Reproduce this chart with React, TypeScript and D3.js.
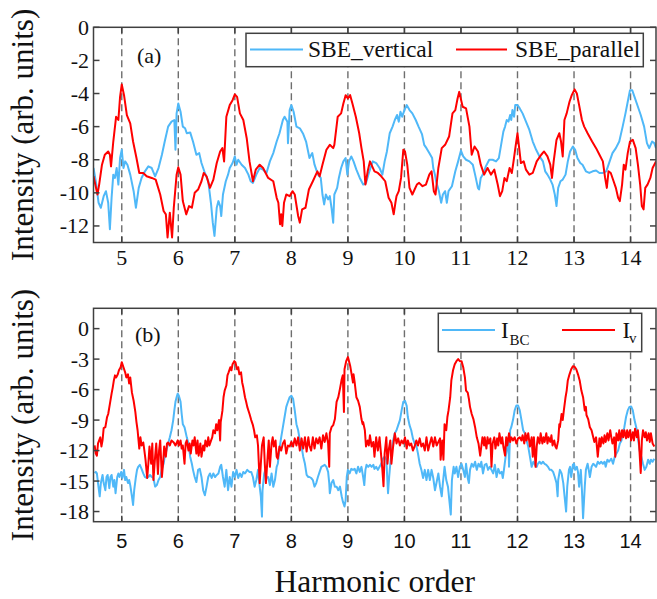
import React from 'react';
import * as d3 from 'd3';

// ---------- data ----------
const harmonicTicks = [5, 6, 7, 8, 9, 10, 11, 12, 13, 14];
const yTicksA = [0, -2, -4, -6, -8, -10, -12];
const yTicksB = [0, -3, -6, -9, -12, -15, -18];

const sbeVertical: [number, number][] = [
  [4.5,-8.5],[4.55,-9.5],[4.59,-10.6],[4.63,-10.9],[4.68,-10.2],[4.72,-9.9],[4.76,-10.6],[4.79,-12.2],[4.82,-10.3],[4.85,-8.9],
  [4.88,-9.1],[4.91,-8.5],[4.94,-9.5],[4.97,-7.9],[5.0,-7.4],[5.03,-8.5],[5.06,-8.1],[5.1,-8.3],[5.15,-8.9],[5.21,-9.9],
  [5.25,-10.9],[5.3,-9.7],[5.35,-9.1],[5.41,-8.7],[5.47,-8.4],[5.53,-8.5],[5.59,-9.0],[5.65,-8.5],[5.71,-7.7],[5.76,-6.9],
  [5.82,-6.0],[5.88,-5.7],[5.93,-5.6],[5.95,-7.4],[5.97,-5.2],[6.0,-4.6],[6.04,-5.1],[6.08,-6.0],[6.12,-6.1],[6.15,-6.4],
  [6.21,-6.35],[6.26,-6.9],[6.32,-7.7],[6.37,-7.6],[6.41,-8.2],[6.47,-8.8],[6.53,-9.3],[6.58,-10.7],[6.61,-11.8],[6.64,-12.6],
  [6.68,-10.9],[6.71,-10.5],[6.74,-10.8],[6.76,-11.4],[6.79,-10.1],[6.84,-9.3],[6.88,-8.9],[6.91,-8.5],[6.96,-8.2],[7.0,-7.8],
  [7.03,-8.3],[7.06,-8.0],[7.12,-8.3],[7.18,-8.5],[7.24,-8.9],[7.28,-9.3],[7.32,-9.4],[7.38,-8.9],[7.44,-8.5],[7.5,-8.6],
  [7.56,-8.8],[7.62,-8.1],[7.68,-7.6],[7.74,-6.9],[7.79,-6.4],[7.85,-5.6],[7.88,-5.4],[7.93,-5.7],[7.94,-7.0],[7.97,-5.0],
  [8.0,-4.7],[8.04,-5.1],[8.09,-6.0],[8.15,-6.1],[8.21,-6.45],[8.26,-6.9],[8.32,-7.9],[8.37,-7.6],[8.41,-8.3],[8.47,-8.9],
  [8.52,-9.1],[8.55,-10.1],[8.58,-10.7],[8.61,-10.1],[8.65,-10.4],[8.68,-10.2],[8.71,-10.9],[8.74,-11.8],[8.76,-10.1],[8.81,-9.7],
  [8.84,-9.1],[8.88,-8.5],[8.92,-8.1],[8.96,-7.9],[8.99,-8.9],[9.02,-8.1],[9.06,-7.8],[9.1,-8.1],[9.15,-8.6],[9.21,-9.1],
  [9.27,-9.5],[9.32,-9.4],[9.38,-8.7],[9.44,-8.1],[9.5,-8.2],[9.56,-8.5],[9.61,-8.9],[9.65,-8.1],[9.69,-7.5],[9.74,-6.4],
  [9.79,-6.0],[9.83,-5.6],[9.87,-5.3],[9.9,-5.7],[9.93,-5.1],[9.96,-5.4],[10.0,-5.0],[10.04,-4.7],[10.09,-5.0],[10.14,-5.2],
  [10.2,-5.6],[10.25,-6.0],[10.31,-6.45],[10.35,-7.1],[10.39,-7.3],[10.44,-7.6],[10.49,-7.9],[10.51,-8.5],[10.54,-8.9],[10.56,-9.3],
  [10.61,-9.9],[10.65,-10.6],[10.68,-10.1],[10.72,-9.9],[10.75,-10.6],[10.78,-9.9],[10.84,-9.6],[10.9,-8.7],[10.95,-8.1],[11.0,-7.45],
  [11.04,-7.8],[11.09,-8.0],[11.15,-8.1],[11.21,-8.3],[11.25,-8.9],[11.3,-9.7],[11.32,-9.8],[11.35,-9.1],[11.4,-8.8],[11.44,-8.4],
  [11.5,-8.0],[11.56,-8.0],[11.62,-8.1],[11.67,-7.9],[11.71,-7.1],[11.75,-6.3],[11.78,-6.0],[11.81,-5.6],[11.84,-5.7],[11.87,-5.3],
  [11.89,-5.6],[11.91,-5.0],[11.94,-5.4],[11.96,-4.7],[12.0,-4.7],[12.04,-4.9],[12.09,-5.2],[12.15,-5.7],[12.21,-6.2],[12.27,-6.9],
  [12.33,-7.4],[12.39,-7.8],[12.45,-8.1],[12.49,-8.7],[12.53,-8.9],[12.58,-9.2],[12.62,-9.5],[12.66,-10.1],[12.69,-10.8],[12.72,-9.7],
  [12.76,-9.3],[12.8,-9.2],[12.85,-8.9],[12.89,-8.1],[12.93,-7.5],[12.98,-7.2],[13.02,-7.4],[13.06,-7.9],[13.11,-8.2],[13.15,-8.3],
  [13.21,-8.7],[13.27,-8.8],[13.33,-8.7],[13.39,-8.65],[13.45,-8.8],[13.51,-8.8],[13.57,-8.7],[13.63,-8.1],[13.68,-7.6],[13.74,-7.3],
  [13.8,-6.9],[13.86,-6.0],[13.91,-5.2],[13.95,-4.5],[13.99,-3.8],[14.03,-3.8],[14.07,-4.2],[14.13,-4.8],[14.18,-5.3],[14.24,-6.0],
  [14.29,-7.0],[14.33,-7.3],[14.38,-6.9],[14.42,-7.0],[14.45,-7.3],
];

const sbeParallel: [number, number][] = [
  [4.5,-9.0],[4.57,-10.1],[4.6,-9.5],[4.65,-8.3],[4.7,-7.7],[4.76,-7.5],[4.79,-7.7],[4.81,-8.4],[4.85,-6.9],[4.9,-5.4],
  [4.94,-5.6],[4.97,-4.2],[5.0,-3.45],[5.04,-4.1],[5.09,-5.3],[5.15,-5.8],[5.2,-6.9],[5.26,-7.9],[5.31,-8.8],[5.38,-8.8],
  [5.44,-9.0],[5.53,-9.1],[5.6,-9.2],[5.68,-10.1],[5.74,-11.1],[5.78,-11.3],[5.81,-12.7],[5.85,-11.2],[5.89,-12.7],[5.92,-10.9],
  [5.97,-8.9],[6.0,-8.45],[6.04,-8.9],[6.08,-10.5],[6.14,-11.3],[6.19,-10.8],[6.24,-10.9],[6.29,-10.0],[6.35,-9.8],[6.41,-9.3],
  [6.45,-8.8],[6.5,-9.0],[6.56,-9.7],[6.62,-9.2],[6.68,-8.2],[6.74,-7.5],[6.78,-7.3],[6.81,-8.1],[6.85,-5.4],[6.91,-4.7],
  [6.96,-4.4],[7.0,-4.05],[7.04,-4.2],[7.09,-5.2],[7.15,-5.6],[7.21,-6.7],[7.26,-8.1],[7.32,-9.3],[7.37,-8.6],[7.44,-8.3],
  [7.5,-8.5],[7.59,-9.1],[7.68,-9.3],[7.74,-10.3],[7.77,-10.6],[7.8,-11.9],[7.82,-11.3],[7.84,-12.0],[7.87,-10.6],[7.91,-10.1],
  [7.97,-10.2],[8.02,-9.9],[8.06,-10.1],[8.12,-11.4],[8.15,-11.8],[8.19,-11.0],[8.25,-10.9],[8.31,-9.8],[8.38,-9.3],[8.46,-8.7],
  [8.5,-9.0],[8.55,-8.3],[8.62,-7.4],[8.68,-7.1],[8.74,-7.3],[8.76,-7.1],[8.82,-5.4],[8.88,-5.2],[8.92,-4.6],[8.96,-4.1],
  [9.0,-4.3],[9.04,-4.1],[9.08,-4.6],[9.14,-5.4],[9.2,-6.4],[9.24,-7.3],[9.28,-8.1],[9.31,-9.5],[9.35,-8.7],[9.39,-8.1],
  [9.47,-8.7],[9.53,-8.8],[9.59,-9.0],[9.66,-9.3],[9.72,-10.3],[9.77,-10.6],[9.81,-11.3],[9.84,-10.6],[9.86,-10.2],[9.9,-9.9],
  [9.94,-9.1],[9.98,-7.4],[10.01,-7.5],[10.05,-8.3],[10.09,-9.7],[10.14,-10.1],[10.18,-9.8],[10.22,-9.5],[10.26,-9.4],[10.32,-9.6],
  [10.38,-9.5],[10.44,-8.9],[10.48,-8.7],[10.52,-9.9],[10.55,-10.1],[10.6,-8.5],[10.66,-7.3],[10.72,-7.1],[10.79,-6.6],[10.85,-5.2],
  [10.9,-5.0],[10.94,-4.3],[10.97,-3.9],[11.03,-4.8],[11.09,-4.9],[11.15,-6.0],[11.19,-7.7],[11.24,-7.2],[11.3,-7.5],[11.35,-8.3],
  [11.41,-8.9],[11.47,-8.5],[11.53,-8.9],[11.59,-8.6],[11.65,-9.5],[11.69,-10.2],[11.73,-9.9],[11.77,-9.1],[11.81,-9.3],[11.86,-8.5],
  [11.9,-8.8],[11.93,-8.1],[11.97,-7.1],[12.0,-6.4],[12.03,-7.3],[12.06,-8.2],[12.11,-8.1],[12.15,-8.6],[12.21,-8.9],[12.27,-8.8],
  [12.34,-8.1],[12.42,-7.7],[12.47,-7.5],[12.53,-7.8],[12.58,-8.3],[12.61,-9.1],[12.64,-8.1],[12.69,-6.8],[12.74,-6.4],[12.77,-6.9],
  [12.8,-7.8],[12.83,-5.6],[12.87,-5.2],[12.92,-4.5],[12.96,-4.1],[13.01,-3.75],[13.05,-4.0],[13.09,-4.7],[13.14,-5.6],[13.18,-6.0],
  [13.24,-6.4],[13.32,-6.9],[13.39,-7.3],[13.45,-7.7],[13.51,-8.1],[13.55,-9.1],[13.58,-9.7],[13.61,-8.7],[13.65,-8.8],[13.7,-9.3],
  [13.74,-9.7],[13.78,-10.3],[13.81,-10.5],[13.85,-9.5],[13.88,-8.3],[13.91,-8.6],[13.95,-7.6],[13.99,-6.9],[14.04,-6.8],[14.09,-7.3],
  [14.13,-8.3],[14.17,-9.5],[14.2,-10.8],[14.23,-11.0],[14.26,-9.7],[14.3,-9.5],[14.35,-9.1],[14.39,-8.5],[14.45,-8.1],
];

const iBC: [number, number][] = [
  [4.52,-14.2],[4.54,-14.1],[4.56,-14.25],[4.58,-15.2],[4.61,-16.5],[4.63,-15.2],[4.66,-14.4],[4.68,-15.2],[4.71,-15.9],[4.73,-14.6],
  [4.75,-14.4],[4.78,-15.7],[4.8,-14.6],[4.82,-14.4],[4.85,-15.55],[4.87,-14.9],[4.89,-16.2],[4.92,-14.6],[4.94,-14.25],[4.96,-14.6],
  [4.99,-14.1],[5.01,-14.7],[5.04,-13.9],[5.06,-14.9],[5.08,-14.6],[5.11,-15.2],[5.13,-14.9],[5.15,-15.4],[5.18,-16.5],[5.2,-17.35],
  [5.22,-15.9],[5.25,-14.6],[5.27,-13.9],[5.29,-13.6],[5.32,-13.4],[5.35,-13.8],[5.38,-14.25],[5.41,-14.6],[5.44,-14.7],[5.47,-14.6],
  [5.5,-14.4],[5.53,-14.6],[5.56,-14.7],[5.59,-15.55],[5.62,-15.4],[5.65,-14.9],[5.68,-14.6],[5.71,-13.8],[5.74,-13.3],[5.76,-12.6],
  [5.79,-12.0],[5.82,-11.3],[5.85,-10.7],[5.88,-10.0],[5.91,-9.0],[5.93,-8.05],[5.95,-7.2],[5.97,-6.75],[5.99,-6.4],[6.01,-6.6],
  [6.04,-7.2],[6.06,-8.4],[6.08,-9.4],[6.11,-9.7],[6.13,-10.2],[6.15,-10.7],[6.18,-11.3],[6.21,-12.6],[6.24,-13.3],[6.26,-13.9],
  [6.29,-14.6],[6.32,-15.1],[6.35,-13.9],[6.38,-13.8],[6.41,-14.6],[6.44,-15.9],[6.47,-16.4],[6.5,-15.55],[6.53,-14.6],[6.56,-14.25],
  [6.59,-14.7],[6.62,-14.25],[6.65,-14.6],[6.68,-14.4],[6.71,-14.25],[6.74,-13.6],[6.76,-13.4],[6.79,-14.6],[6.82,-15.55],[6.85,-13.9],
  [6.88,-15.9],[6.91,-14.6],[6.94,-15.55],[6.97,-14.1],[7.0,-14.6],[7.03,-13.9],[7.06,-14.7],[7.09,-14.25],[7.12,-14.6],[7.15,-14.1],
  [7.18,-14.25],[7.22,-13.9],[7.26,-14.1],[7.29,-14.1],[7.32,-14.6],[7.35,-15.55],[7.38,-14.9],[7.41,-13.9],[7.44,-15.55],[7.46,-16.5],
  [7.48,-18.5],[7.49,-15.9],[7.52,-14.25],[7.54,-13.9],[7.56,-14.7],[7.59,-14.6],[7.62,-15.4],[7.65,-14.25],[7.68,-15.55],[7.71,-14.9],
  [7.74,-13.6],[7.76,-13.3],[7.79,-11.8],[7.82,-10.7],[7.85,-9.7],[7.88,-8.7],[7.91,-7.7],[7.94,-7.2],[7.97,-6.75],[8.0,-6.6],
  [8.03,-6.9],[8.06,-8.05],[8.09,-9.4],[8.12,-10.0],[8.15,-11.0],[8.18,-11.6],[8.21,-12.6],[8.24,-13.3],[8.27,-14.4],[8.3,-14.6],
  [8.32,-14.6],[8.35,-14.7],[8.38,-14.9],[8.41,-15.55],[8.44,-15.2],[8.47,-14.6],[8.5,-14.1],[8.53,-13.6],[8.56,-13.5],[8.59,-13.4],
  [8.62,-13.6],[8.65,-14.1],[8.67,-15.2],[8.68,-16.2],[8.71,-15.2],[8.74,-14.9],[8.77,-15.55],[8.8,-15.55],[8.83,-15.9],[8.86,-15.55],
  [8.89,-16.5],[8.91,-17.0],[8.94,-17.5],[8.96,-16.9],[8.98,-14.6],[9.0,-13.9],[9.03,-14.25],[9.06,-13.8],[9.09,-13.9],[9.12,-13.8],
  [9.15,-14.25],[9.18,-13.6],[9.21,-14.1],[9.24,-13.6],[9.27,-14.6],[9.29,-15.4],[9.31,-13.9],[9.33,-13.4],[9.36,-13.6],[9.39,-13.4],
  [9.42,-13.6],[9.45,-13.4],[9.47,-13.8],[9.5,-13.6],[9.53,-13.9],[9.56,-13.6],[9.59,-13.3],[9.62,-12.8],[9.65,-12.6],[9.68,-12.9],
  [9.71,-16.2],[9.73,-14.6],[9.75,-13.3],[9.77,-12.3],[9.8,-11.0],[9.83,-10.3],[9.86,-10.0],[9.89,-9.5],[9.92,-9.0],[9.95,-8.05],
  [9.98,-7.2],[10.01,-7.1],[10.04,-7.6],[10.06,-8.7],[10.09,-9.5],[10.12,-10.0],[10.15,-10.8],[10.18,-11.3],[10.21,-11.5],[10.24,-12.3],
  [10.27,-13.3],[10.3,-13.9],[10.33,-14.7],[10.36,-13.9],[10.39,-14.9],[10.42,-13.9],[10.45,-14.9],[10.48,-13.9],[10.51,-14.7],[10.54,-15.9],
  [10.57,-15.1],[10.6,-14.25],[10.63,-15.55],[10.66,-16.5],[10.68,-15.2],[10.71,-13.6],[10.74,-14.9],[10.77,-15.55],[10.8,-17.2],[10.82,-18.3],
  [10.84,-14.9],[10.87,-13.6],[10.89,-14.25],[10.92,-13.6],[10.95,-14.6],[10.98,-13.6],[11.01,-13.3],[11.04,-13.9],[11.07,-14.6],[11.09,-13.3],
  [11.12,-14.7],[11.14,-15.2],[11.16,-13.9],[11.19,-13.3],[11.22,-13.6],[11.25,-13.1],[11.28,-13.9],[11.31,-13.3],[11.34,-13.6],[11.36,-13.1],
  [11.39,-14.25],[11.42,-13.4],[11.45,-13.3],[11.48,-13.9],[11.51,-13.6],[11.54,-13.9],[11.57,-14.25],[11.6,-13.4],[11.63,-14.6],[11.66,-13.8],
  [11.69,-14.25],[11.72,-14.1],[11.74,-14.7],[11.76,-13.9],[11.79,-12.6],[11.81,-12.0],[11.84,-10.7],[11.85,-13.6],[11.87,-10.0],[11.89,-9.7],
  [11.92,-9.0],[11.95,-8.05],[11.98,-7.56],[12.01,-7.56],[12.04,-8.05],[12.07,-9.0],[12.1,-10.0],[12.13,-10.3],[12.16,-11.0],[12.19,-11.6],
  [12.22,-12.6],[12.25,-13.6],[12.28,-13.1],[12.31,-13.4],[12.34,-13.6],[12.36,-13.3],[12.39,-13.1],[12.42,-13.3],[12.45,-13.1],[12.48,-13.3],
  [12.51,-13.4],[12.54,-13.6],[12.57,-13.9],[12.6,-13.9],[12.63,-14.1],[12.66,-14.6],[12.69,-15.2],[12.71,-16.5],[12.72,-14.9],[12.75,-13.9],
  [12.78,-14.25],[12.81,-15.2],[12.84,-16.9],[12.86,-18.0],[12.88,-15.55],[12.91,-13.9],[12.93,-13.6],[12.95,-14.6],[12.98,-13.4],[13.0,-13.3],
  [13.02,-13.9],[13.05,-13.6],[13.07,-14.1],[13.09,-15.55],[13.12,-13.9],[13.14,-15.9],[13.16,-18.65],[13.19,-15.55],[13.21,-13.9],[13.24,-13.3],
  [13.26,-13.9],[13.28,-14.6],[13.31,-13.6],[13.34,-13.3],[13.36,-13.4],[13.39,-13.6],[13.42,-13.1],[13.45,-13.3],[13.48,-13.1],[13.51,-13.3],
  [13.54,-13.1],[13.56,-13.6],[13.59,-12.9],[13.62,-13.1],[13.66,-12.8],[13.69,-13.3],[13.72,-12.6],[13.75,-12.3],[13.78,-12.0],[13.81,-11.3],
  [13.84,-11.0],[13.86,-10.3],[13.89,-9.7],[13.92,-8.7],[13.95,-8.05],[13.98,-7.7],[14.01,-7.66],[14.04,-8.05],[14.07,-9.0],[14.1,-9.7],
  [14.13,-10.7],[14.16,-12.0],[14.19,-12.6],[14.22,-13.3],[14.25,-13.9],[14.28,-13.6],[14.31,-12.9],[14.34,-13.3],[14.36,-12.9],[14.39,-13.1],
  [14.42,-12.8],
];

const iV: [number, number][] = [
  [4.52,-11.5],[4.54,-12.3],[4.56,-12.5],[4.58,-11.3],[4.62,-10.7],[4.64,-11.6],[4.66,-11.0],[4.68,-9.8],[4.71,-9.7],[4.74,-8.7],
  [4.76,-8.4],[4.79,-7.4],[4.82,-6.4],[4.84,-5.8],[4.86,-5.1],[4.88,-4.6],[4.9,-4.8],[4.93,-4.5],[4.95,-4.1],[4.98,-3.8],
  [5.0,-3.3],[5.03,-3.8],[5.06,-4.3],[5.08,-4.8],[5.11,-4.5],[5.13,-5.4],[5.15,-4.8],[5.18,-6.3],[5.21,-7.1],[5.24,-8.2],
  [5.26,-9.2],[5.28,-10.0],[5.31,-11.8],[5.33,-10.7],[5.35,-11.5],[5.38,-11.2],[5.4,-12.0],[5.42,-12.9],[5.45,-14.7],[5.47,-13.3],
  [5.49,-11.6],[5.52,-13.3],[5.54,-11.3],[5.56,-14.9],[5.59,-12.6],[5.61,-11.3],[5.64,-14.3],[5.66,-12.0],[5.68,-11.0],[5.71,-14.6],
  [5.73,-13.3],[5.75,-11.6],[5.78,-12.6],[5.8,-11.3],[5.82,-11.2],[5.85,-11.5],[5.88,-11.0],[5.92,-11.2],[5.95,-11.5],[5.99,-11.0],
  [6.01,-11.5],[6.04,-11.0],[6.06,-11.8],[6.08,-11.5],[6.11,-13.3],[6.13,-11.3],[6.15,-11.0],[6.18,-12.0],[6.2,-11.3],[6.22,-12.3],
  [6.25,-11.0],[6.27,-11.5],[6.29,-10.7],[6.32,-12.3],[6.34,-11.0],[6.36,-12.5],[6.39,-11.3],[6.41,-12.6],[6.44,-11.5],[6.46,-12.0],
  [6.48,-11.0],[6.51,-11.6],[6.53,-10.7],[6.55,-11.5],[6.58,-11.0],[6.6,-10.7],[6.62,-10.0],[6.65,-10.3],[6.67,-9.4],[6.69,-10.0],
  [6.72,-9.0],[6.74,-11.0],[6.75,-9.2],[6.78,-8.1],[6.8,-6.75],[6.82,-6.1],[6.85,-5.6],[6.87,-4.6],[6.89,-4.3],[6.92,-3.8],
  [6.94,-4.1],[6.96,-3.5],[6.99,-3.2],[7.01,-3.3],[7.04,-4.0],[7.06,-3.8],[7.08,-4.5],[7.11,-4.3],[7.13,-5.3],[7.15,-5.8],
  [7.18,-6.75],[7.2,-7.2],[7.22,-7.7],[7.26,-8.4],[7.29,-9.0],[7.32,-9.5],[7.34,-10.0],[7.36,-10.7],[7.39,-10.5],[7.41,-11.5],
  [7.44,-15.2],[7.46,-13.3],[7.48,-11.5],[7.51,-10.7],[7.53,-13.3],[7.55,-15.2],[7.58,-12.6],[7.6,-11.0],[7.62,-13.6],[7.65,-11.3],
  [7.67,-10.7],[7.69,-11.6],[7.72,-11.0],[7.74,-12.6],[7.76,-12.8],[7.79,-11.6],[7.82,-12.0],[7.85,-11.3],[7.88,-11.0],[7.91,-12.3],
  [7.94,-11.5],[7.97,-11.6],[8.0,-11.15],[8.03,-11.6],[8.06,-10.8],[8.09,-11.5],[8.12,-10.7],[8.15,-12.0],[8.18,-10.8],[8.21,-11.8],
  [8.24,-10.7],[8.27,-12.1],[8.3,-10.7],[8.32,-11.5],[8.35,-12.0],[8.38,-10.7],[8.41,-11.8],[8.44,-10.8],[8.47,-11.3],[8.5,-10.7],
  [8.53,-11.8],[8.56,-10.5],[8.59,-11.15],[8.62,-10.3],[8.65,-11.3],[8.67,-13.6],[8.68,-10.3],[8.71,-9.7],[8.74,-9.5],[8.77,-8.9],
  [8.8,-7.2],[8.83,-6.75],[8.86,-5.9],[8.89,-5.0],[8.91,-4.6],[8.93,-8.2],[8.94,-4.0],[8.97,-3.2],[9.0,-2.8],[9.01,-3.0],
  [9.04,-3.65],[9.06,-4.3],[9.09,-5.3],[9.1,-4.5],[9.12,-5.3],[9.15,-6.75],[9.18,-7.1],[9.21,-7.7],[9.24,-8.9],[9.26,-9.4],
  [9.27,-9.2],[9.3,-10.0],[9.32,-11.6],[9.35,-11.0],[9.37,-11.5],[9.39,-10.5],[9.42,-11.6],[9.45,-11.15],[9.47,-12.6],[9.5,-10.7],
  [9.53,-12.0],[9.56,-10.7],[9.59,-12.6],[9.61,-13.9],[9.63,-15.5],[9.65,-12.3],[9.68,-10.7],[9.7,-13.3],[9.72,-12.0],[9.75,-11.0],
  [9.77,-13.3],[9.8,-11.6],[9.83,-10.3],[9.86,-11.3],[9.89,-10.8],[9.92,-11.5],[9.95,-11.0],[9.98,-11.3],[10.01,-10.7],[10.04,-11.8],
  [10.06,-11.0],[10.09,-11.5],[10.12,-11.3],[10.15,-12.0],[10.18,-11.6],[10.21,-11.0],[10.24,-11.5],[10.27,-10.8],[10.3,-11.6],[10.33,-11.3],
  [10.36,-12.0],[10.39,-10.7],[10.42,-12.0],[10.45,-11.3],[10.48,-10.7],[10.51,-11.6],[10.54,-10.7],[10.57,-11.5],[10.6,-11.15],[10.63,-10.8],
  [10.64,-12.9],[10.67,-11.0],[10.69,-12.9],[10.71,-9.4],[10.74,-10.0],[10.76,-8.7],[10.78,-8.05],[10.81,-6.75],[10.83,-5.1],[10.86,-4.1],
  [10.89,-3.5],[10.92,-3.2],[10.95,-3.0],[10.98,-3.2],[11.01,-3.2],[11.04,-3.8],[11.07,-4.8],[11.09,-6.1],[11.12,-6.3],[11.14,-6.9],
  [11.16,-7.7],[11.19,-8.4],[11.22,-8.9],[11.25,-9.7],[11.28,-10.7],[11.31,-11.3],[11.34,-12.5],[11.36,-11.6],[11.38,-10.7],[11.41,-11.5],
  [11.42,-10.7],[11.45,-11.8],[11.47,-10.7],[11.49,-11.3],[11.52,-10.8],[11.54,-13.6],[11.56,-11.3],[11.59,-10.7],[11.61,-11.8],[11.64,-10.8],
  [11.66,-11.5],[11.68,-10.3],[11.71,-11.3],[11.73,-10.7],[11.75,-11.6],[11.78,-12.5],[11.8,-10.7],[11.82,-11.5],[11.85,-10.3],[11.87,-11.15],
  [11.89,-10.7],[11.92,-11.0],[11.95,-10.7],[11.98,-11.3],[12.01,-10.8],[12.04,-10.7],[12.07,-11.0],[12.09,-10.5],[12.12,-11.3],[12.14,-10.3],
  [12.16,-11.0],[12.19,-10.3],[12.22,-11.6],[12.25,-10.7],[12.27,-12.6],[12.29,-10.7],[12.32,-13.6],[12.34,-11.6],[12.36,-10.7],[12.39,-11.3],
  [12.41,-10.3],[12.44,-11.3],[12.46,-10.7],[12.48,-11.15],[12.51,-10.3],[12.53,-11.3],[12.55,-10.7],[12.58,-11.15],[12.6,-10.5],[12.62,-11.5],
  [12.65,-11.0],[12.67,-11.6],[12.69,-11.8],[12.72,-11.0],[12.74,-9.4],[12.75,-9.7],[12.78,-8.4],[12.8,-9.0],[12.82,-8.05],[12.85,-6.75],
  [12.87,-6.1],[12.89,-5.1],[12.92,-4.5],[12.95,-4.0],[12.98,-3.7],[13.01,-3.75],[13.04,-4.0],[13.07,-4.5],[13.1,-5.1],[13.13,-6.1],
  [13.16,-6.75],[13.19,-8.05],[13.21,-7.7],[13.22,-8.5],[13.25,-8.9],[13.28,-9.7],[13.31,-10.0],[13.34,-10.7],[13.36,-11.15],[13.39,-10.7],
  [13.42,-12.6],[13.45,-10.8],[13.47,-11.6],[13.49,-10.7],[13.52,-11.3],[13.54,-10.5],[13.56,-11.15],[13.59,-10.3],[13.61,-11.0],[13.64,-10.0],
  [13.66,-10.7],[13.68,-11.3],[13.71,-10.7],[13.73,-12.6],[13.75,-10.3],[13.78,-11.0],[13.8,-10.0],[13.82,-11.0],[13.85,-10.0],[13.87,-10.7],
  [13.89,-10.0],[13.92,-10.8],[13.94,-10.0],[13.96,-10.7],[13.99,-10.0],[14.01,-11.0],[14.04,-10.2],[14.06,-11.0],[14.08,-9.85],[14.11,-10.7],
  [14.13,-10.0],[14.15,-11.3],[14.18,-14.2],[14.2,-11.0],[14.22,-10.0],[14.25,-10.7],[14.27,-10.2],[14.29,-11.0],[14.32,-10.3],[14.34,-11.15],
  [14.36,-10.3],[14.39,-11.3],[14.42,-11.6],
];

// ---------- layout ----------
const W = 657;
const H = 599;
const X0 = 93.5;
const X1 = 656;
const BLUE = '#4FB8F8';
const RED = '#FF0000';
const FRAME = '#404040';
const SERIF = '"Liberation Serif", "Times New Roman", serif';
const SANS = '"Liberation Sans", Arial, sans-serif';

const xScale = d3.scaleLinear().domain([4.5, 14.45]).range([X0, X1]);

type PanelProps = {
  id: string;
  top: number;
  bottom: number;
  yDomain: [number, number];
  yTicks: number[];
  blue: [number, number][];
  red: [number, number][];
  xFont: string;
  xLabelY: number;
  children?: React.ReactNode;
};

function Panel({ id, top, bottom, yDomain, yTicks, blue, red, xFont, xLabelY, children }: PanelProps) {
  const y = d3.scaleLinear().domain(yDomain).range([bottom, top]);
  const line = d3
    .line<[number, number]>()
    .x((d) => xScale(d[0]))
    .y((d) => y(d[1]));
  const tl = 6;
  return (
    <g>
      <defs>
        <clipPath id={`clip-${id}`}>
          <rect x={X0} y={top} width={X1 - X0} height={bottom - top} />
        </clipPath>
      </defs>
      {harmonicTicks.map((t) => (
        <line
          key={`g${t}`}
          x1={xScale(t)}
          x2={xScale(t)}
          y1={top}
          y2={bottom}
          stroke="#6e6e6e"
          strokeWidth={1.4}
          strokeDasharray="7,4"
        />
      ))}
      <g clipPath={`url(#clip-${id})`}>
        <path d={line(blue) || ''} fill="none" stroke={BLUE} strokeWidth={2} strokeLinejoin="round" />
        <path d={line(red) || ''} fill="none" stroke={RED} strokeWidth={2} strokeLinejoin="round" />
      </g>
      {harmonicTicks.map((t) => (
        <g key={`xt${t}`}>
          <line x1={xScale(t)} x2={xScale(t)} y1={bottom} y2={bottom - tl} stroke={FRAME} strokeWidth={1.5} />
          <line x1={xScale(t)} x2={xScale(t)} y1={top} y2={top + tl} stroke={FRAME} strokeWidth={1.5} />
          <text x={xScale(t)} y={xLabelY} textAnchor="middle" fontFamily={xFont} fontSize={xFont === SANS ? 20 : 22} fill="#111">
            {t}
          </text>
        </g>
      ))}
      {yTicks.map((t) => (
        <g key={`yt${t}`}>
          <line x1={X0} x2={X0 + tl} y1={y(t)} y2={y(t)} stroke={FRAME} strokeWidth={1.5} />
          <line x1={X1} x2={X1 - tl} y1={y(t)} y2={y(t)} stroke={FRAME} strokeWidth={1.5} />
          <text x={89} y={y(t)} dy="0.34em" textAnchor="end" fontFamily={SERIF} fontSize={22} fill="#111">
            {t}
          </text>
        </g>
      ))}
      <rect x={X0} y={top} width={X1 - X0} height={bottom - top} fill="none" stroke={FRAME} strokeWidth={1.5} />
      <text
        transform={`translate(33,${(top + bottom) / 2}) rotate(-90)`}
        textAnchor="middle"
        fontFamily={SERIF}
        fontSize={31}
        fill="#111"
      >
        Intensity (arb. units)
      </text>
      {children}
    </g>
  );
}

export default function App() {
  return (
    <svg
      width={W}
      height={H}
      viewBox={`0 0 ${W} ${H}`}
      style={{ position: 'absolute', left: 0, top: 0, background: '#fff' }}
    >
      <rect x={0} y={0} width={W} height={H} fill="#fff" />
      <Panel
        id="a"
        top={27.3}
        bottom={242.5}
        yDomain={[-13, 0]}
        yTicks={yTicksA}
        blue={sbeVertical}
        red={sbeParallel}
        xFont={SERIF}
        xLabelY={265}
      >
        <text x={137} y={63} fontFamily={SERIF} fontSize={22} fill="#111">(a)</text>
        <rect x={246} y={33.3} width={397.3} height={33.4} fill="#fff" stroke={FRAME} strokeWidth={1.5} />
        <line x1={250} x2={303} y1={49.5} y2={49.5} stroke={BLUE} strokeWidth={2} />
        <text x={308} y={57} fontFamily={SERIF} fontSize={23.5} fill="#111">SBE_vertical</text>
        <line x1={456} x2={507} y1={49.5} y2={49.5} stroke={RED} strokeWidth={2} />
        <text x={515} y={57} fontFamily={SERIF} fontSize={23.5} fill="#111">SBE_parallel</text>
      </Panel>
      <Panel
        id="b"
        top={308.3}
        bottom={521.7}
        yDomain={[-19, 2]}
        yTicks={yTicksB}
        blue={iBC}
        red={iV}
        xFont={SANS}
        xLabelY={548}
      >
        <text x={135} y={342} fontFamily={SERIF} fontSize={22} fill="#111">(b)</text>
        <rect x={438.3} y={313.3} width={203.4} height={38.4} fill="#fff" stroke={FRAME} strokeWidth={1.5} />
        <line x1={442} x2={495} y1={330} y2={330} stroke={BLUE} strokeWidth={2} />
        <text x={501} y={338} fontFamily={SERIF} fontSize={23} fill="#111">I</text>
        <text x={509.5} y={345} fontFamily={SERIF} fontSize={15} fill="#111">BC</text>
        <line x1={562} x2={615} y1={330} y2={330} stroke={RED} strokeWidth={2} />
        <text x={622.5} y={338} fontFamily={SERIF} fontSize={23} fill="#111">I</text>
        <text x={629} y={343} fontFamily={SERIF} fontSize={15} fill="#111">v</text>
      </Panel>
      <text x={(X0 + X1) / 2} y={592} textAnchor="middle" fontFamily={SERIF} fontSize={31.5} fill="#111">
        Harmonic order
      </text>
    </svg>
  );
}
